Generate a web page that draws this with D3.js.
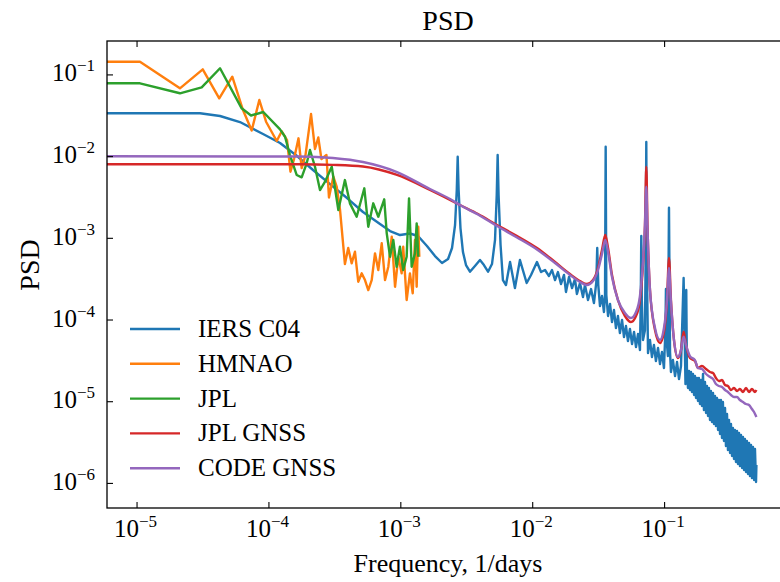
<!DOCTYPE html>
<html>
<head>
<meta charset="utf-8">
<script src="https://cdn.jsdelivr.net/npm/d3@7"></script>
<style>
  body { margin: 0; background: #fff; }
  svg { display: block; }
  svg text { font-family: "Liberation Serif", "DejaVu Serif", serif; fill: #000; }
</style>
</head>
<body>
<svg id="chart" width="780" height="582"></svg>
<script>
// values as [log10 frequency (1/days), log10 PSD]
// the first point of each series stands for f -> 0 (drawn flat to the left edge)
const seriesNames = ["IERS C04", "HMNAO", "JPL", "JPL GNSS", "CODE GNSS"];
const seriesColors = ["#1f77b4", "#ff7f0e", "#2ca02c", "#d62728", "#9467bd"];

const iersC04 = [
  [-6.5,-1.476],[-4.519,-1.476],[-4.367,-1.509],[-4.216,-1.583],[-4.041,-1.729],[-3.912,-1.840],[-3.783,-1.999],
  [-3.662,-2.170],[-3.533,-2.342],[-3.404,-2.513],[-3.283,-2.684],[-3.154,-2.831],[-3.078,-2.917],[-3.002,-2.966],
  [-2.927,-2.947],[-2.866,-2.978],[-2.798,-3.100],[-2.737,-3.223],[-2.684,-3.308],[-2.638,-3.259],[-2.608,-3.125],
  [-2.585,-2.843],[-2.572,-2.415],[-2.565,-2.007],[-2.558,-2.415],[-2.544,-2.880],[-2.525,-3.174],[-2.502,-3.333],
  [-2.472,-3.415],[-2.434,-3.345],[-2.396,-3.272],[-2.366,-3.333],[-2.335,-3.415],[-2.305,-3.321],[-2.282,-3.027],
  [-2.269,-2.476],[-2.262,-1.987],[-2.255,-2.476],[-2.240,-3.088],[-2.222,-3.517],[-2.199,-3.578],[-2.168,-3.296],
  [-2.131,-3.614],[-2.093,-3.272],[-2.042,-3.553],[-2.009,-3.455],[-1.964,-3.296],[-1.933,-3.419],[-1.903,-3.394],
  [-1.873,-3.468],[-1.850,-3.394],[-1.827,-3.517],[-1.805,-3.419],[-1.782,-3.566],[-1.759,-3.455],[-1.744,-3.663],
  [-1.721,-3.480],[-1.698,-3.615],[-1.676,-3.504],[-1.661,-3.688],[-1.638,-3.553],[-1.615,-3.725],[-1.600,-3.578],
  [-1.577,-3.761],[-1.554,-3.627],[-1.532,-3.798],[-1.514,-3.541],[-1.507,-3.125],[-1.499,-3.578],[-1.486,-3.835],
  [-1.471,-3.712],[-1.456,-3.908],[-1.448,-3.700],[-1.443,-1.885],[-1.438,-3.700],[-1.425,-3.957],[-1.410,-3.810],
  [-1.395,-4.031],[-1.380,-3.884],[-1.365,-4.104],[-1.350,-3.957],[-1.335,-4.165],[-1.319,-4.006],[-1.304,-4.214],
  [-1.289,-4.080],[-1.274,-4.263],[-1.259,-4.116],[-1.243,-4.300],[-1.228,-4.153],[-1.213,-4.337],[-1.198,-4.178],
  [-1.183,-4.373],[-1.177,-3.761],[-1.173,-2.978],[-1.169,-3.761],[-1.160,-4.251],[-1.145,-4.129],[-1.140,-3.272],
  [-1.135,-1.827],[-1.131,-3.272],[-1.122,-4.410],[-1.107,-4.251],[-1.092,-4.459],[-1.077,-4.312],[-1.062,-4.508],
  [-1.046,-4.349],[-1.031,-4.545],[-1.016,-4.398],[-1.001,-4.594],[-0.990,-4.129],[-0.986,-3.627],[-0.981,-4.251],
  [-0.971,-4.447],[-0.963,-2.632],[-0.955,-4.398],[-0.948,-4.643],[-0.933,-4.496],[-0.917,-4.692],[-0.902,-4.520],
  [-0.887,-4.728],[-0.872,-4.569],[-0.857,-3.761],[-0.852,-3.492],[-0.845,-4.129],[-0.838,-4.790],[-0.832,-3.639],
  [-0.827,-4.594],[-0.823,-4.700],[-0.819,-4.838],[-0.815,-4.720],[-0.811,-4.630],[-0.807,-4.760],[-0.804,-4.863],
  [-0.800,-4.740],[-0.796,-4.643],[-0.792,-4.780],[-0.789,-4.887],[-0.785,-4.770],[-0.781,-4.667],[-0.777,-4.820],
  [-0.773,-4.924],[-0.770,-4.800],[-0.766,-4.692],[-0.762,-4.850],[-0.758,-4.961],[-0.755,-4.830],[-0.751,-4.716],
  [-0.747,-4.880],[-0.743,-4.998],[-0.740,-4.850],[-0.736,-4.716],[-0.732,-4.900],[-0.728,-5.034],[-0.724,-4.880],
  [-0.720,-4.741],[-0.717,-4.930],[-0.713,-5.059],[-0.709,-4.850],[-0.705,-4.667],[-0.701,-4.920],[-0.698,-5.108],
  [-0.694,-4.930],[-0.690,-4.765],[-0.686,-4.980],[-0.682,-5.144],[-0.679,-4.970],[-0.675,-4.814],[-0.671,-5.010],
  [-0.667,-5.181],[-0.664,-5.000],[-0.660,-4.838],[-0.656,-5.050],[-0.652,-5.230],[-0.649,-5.040],[-0.645,-4.875],
  [-0.641,-5.080],[-0.637,-5.255],[-0.633,-5.070],[-0.629,-4.900],[-0.626,-5.110],[-0.622,-5.279],[-0.618,-5.100],
  [-0.614,-4.936],[-0.610,-5.140],[-0.607,-5.304],[-0.603,-5.130],[-0.599,-4.961],[-0.595,-5.170],[-0.591,-5.353],
  [-0.588,-5.160],[-0.584,-4.985],[-0.580,-5.200],[-0.576,-5.402],[-0.573,-5.190],[-0.569,-4.985],[-0.565,-5.230],
  [-0.561,-5.451],[-0.557,-5.230],[-0.554,-5.010],[-0.550,-5.260],[-0.546,-5.487],[-0.542,-5.280],[-0.538,-5.083],
  [-0.535,-5.320],[-0.531,-5.548],[-0.527,-5.350],[-0.523,-5.157],[-0.519,-5.380],[-0.516,-5.597],[-0.512,-5.410],
  [-0.508,-5.230],[-0.504,-5.430],[-0.500,-5.634],[-0.497,-5.460],[-0.493,-5.279],[-0.489,-5.480],[-0.485,-5.671],
  [-0.482,-5.500],[-0.478,-5.328],[-0.474,-5.520],[-0.470,-5.708],[-0.466,-5.530],[-0.463,-5.353],[-0.459,-5.550],
  [-0.455,-5.744],[-0.451,-5.560],[-0.447,-5.365],[-0.444,-5.570],[-0.440,-5.769],[-0.436,-5.580],[-0.432,-5.389],
  [-0.428,-5.590],[-0.425,-5.793],[-0.421,-5.610],[-0.417,-5.414],[-0.413,-5.620],[-0.409,-5.818],[-0.406,-5.630],
  [-0.402,-5.438],[-0.398,-5.640],[-0.394,-5.842],[-0.390,-5.650],[-0.387,-5.463],[-0.383,-5.670],[-0.379,-5.867],
  [-0.375,-5.680],[-0.372,-5.487],[-0.368,-5.690],[-0.364,-5.891],[-0.360,-5.700],[-0.356,-5.512],[-0.352,-5.710],
  [-0.349,-5.916],[-0.345,-5.730],[-0.341,-5.536],[-0.337,-5.740],[-0.334,-5.940],[-0.330,-5.750],[-0.326,-5.561],
  [-0.322,-5.760],[-0.318,-5.965],[-0.315,-5.780],[-0.311,-5.585],[-0.307,-5.790],[-0.303,-5.989],[-0.300,-5.781]
];

const hmnao = [
  [-6.5,-0.845],[-4.974,-0.845],[-4.671,-1.170],[-4.498,-0.938],[-4.373,-1.293],[-4.274,-1.028],[-4.193,-1.436],
  [-4.127,-1.687],[-4.069,-1.313],[-4.018,-1.579],[-3.937,-1.815],[-3.899,-1.696],[-3.859,-1.803],[-3.833,-2.191],
  [-3.806,-2.036],[-3.772,-1.782],[-3.748,-2.146],[-3.719,-1.987],[-3.677,-1.485],[-3.647,-1.913],[-3.622,-1.772],
  [-3.598,-2.036],[-3.560,-1.987],[-3.541,-2.507],[-3.508,-2.252],[-3.482,-2.378],[-3.457,-2.660],[-3.420,-3.321],
  [-3.395,-3.125],[-3.369,-3.312],[-3.344,-3.170],[-3.319,-3.537],[-3.293,-3.435],[-3.268,-3.517],[-3.243,-3.639],
  [-3.217,-3.517],[-3.192,-3.190],[-3.167,-3.394],[-3.141,-3.067],[-3.116,-3.517],[-3.091,-3.354],[-3.065,-2.987],
  [-3.040,-3.599],[-3.015,-3.231],[-2.990,-3.435],[-2.978,-3.109],[-2.952,-3.761],[-2.927,-3.435],[-2.906,-3.679],
  [-2.889,-3.027],[-2.876,-3.599],[-2.864,-2.864],[-2.856,-3.231]
];

const jpl = [
  [-6.5,-1.109],[-4.974,-1.109],[-4.671,-1.231],[-4.506,-1.158],[-4.367,-0.925],[-4.203,-1.415],[-4.132,-1.503],
  [-4.039,-1.460],[-3.912,-1.672],[-3.874,-1.763],[-3.837,-1.987],[-3.786,-2.231],[-3.748,-2.260],[-3.710,-2.088],
  [-3.685,-1.925],[-3.647,-2.130],[-3.609,-2.415],[-3.571,-2.313],[-3.520,-2.130],[-3.470,-2.660],[-3.420,-2.293],
  [-3.382,-2.578],[-3.331,-2.742],[-3.273,-2.394],[-3.243,-2.864],[-3.205,-2.578],[-3.167,-2.742],[-3.122,-2.529],
  [-3.103,-2.945],[-3.078,-3.231],[-3.053,-3.027],[-3.028,-3.354],[-3.003,-3.109],[-2.978,-3.394],[-2.952,-3.231],
  [-2.934,-2.517],[-2.914,-3.354],[-2.889,-3.190],[-2.876,-2.823],[-2.864,-3.231]
];

const jplGnss = [
  [-6.5,-2.100],[-3.761,-2.100],[-3.511,-2.107],[-3.283,-2.127],[-3.025,-2.231],[-2.775,-2.415],[-2.623,-2.537],
  [-2.548,-2.599],[-2.411,-2.709],[-2.267,-2.843],[-2.115,-2.978],[-1.964,-3.125],[-1.827,-3.296],[-1.714,-3.443],
  [-1.638,-3.529],[-1.585,-3.566],[-1.539,-3.517],[-1.501,-3.370],[-1.471,-3.149],[-1.446,-2.966],[-1.425,-3.125],
  [-1.395,-3.455],[-1.350,-3.761],[-1.297,-3.957],[-1.251,-4.031],[-1.213,-3.957],[-1.183,-3.761],[-1.160,-3.333],
  [-1.145,-2.843],[-1.135,-2.130],[-1.126,-2.843],[-1.107,-3.639],[-1.069,-4.129],[-1.031,-4.288],[-1.001,-4.153],
  [-0.978,-3.761],[-0.963,-3.247],[-0.948,-3.761],[-0.925,-4.251],[-0.895,-4.471],[-0.872,-4.373],[-0.852,-4.149],
  [-0.834,-4.312],[-0.804,-4.471],[-0.766,-4.508],[-0.743,-4.594],[-0.713,-4.569],[-0.682,-4.606],[-0.652,-4.643],
  [-0.629,-4.655],[-0.607,-4.716],[-0.584,-4.753],[-0.561,-4.741],[-0.538,-4.802],[-0.516,-4.814],[-0.493,-4.863],
  [-0.470,-4.838],[-0.447,-4.875],[-0.425,-4.851],[-0.402,-4.887],[-0.379,-4.838],[-0.356,-4.887],[-0.334,-4.851],
  [-0.311,-4.887],[-0.300,-4.863]
];

const codeGnss = [
  [-6.5,-2.000],[-3.761,-2.005],[-3.511,-2.023],[-3.283,-2.072],[-3.025,-2.195],[-2.775,-2.403],[-2.623,-2.525],
  [-2.548,-2.599],[-2.411,-2.715],[-2.267,-2.856],[-2.115,-2.996],[-1.964,-3.143],[-1.827,-3.309],[-1.714,-3.455],
  [-1.638,-3.541],[-1.585,-3.578],[-1.539,-3.529],[-1.501,-3.394],[-1.471,-3.198],[-1.446,-3.027],[-1.425,-3.174],
  [-1.395,-3.480],[-1.350,-3.761],[-1.297,-3.920],[-1.251,-3.982],[-1.213,-3.908],[-1.183,-3.712],[-1.160,-3.296],
  [-1.145,-2.843],[-1.135,-2.375],[-1.126,-2.880],[-1.107,-3.639],[-1.069,-4.104],[-1.031,-4.251],[-1.001,-4.104],
  [-0.978,-3.761],[-0.963,-3.370],[-0.948,-3.786],[-0.925,-4.251],[-0.895,-4.459],[-0.872,-4.373],[-0.852,-4.211],
  [-0.834,-4.312],[-0.804,-4.447],[-0.766,-4.496],[-0.743,-4.594],[-0.713,-4.606],[-0.682,-4.667],[-0.652,-4.704],
  [-0.629,-4.728],[-0.607,-4.790],[-0.584,-4.814],[-0.561,-4.826],[-0.538,-4.863],[-0.516,-4.887],[-0.493,-4.924],
  [-0.470,-4.949],[-0.447,-4.949],[-0.425,-4.985],[-0.402,-5.010],[-0.379,-5.034],[-0.356,-5.047],[-0.334,-5.096],
  [-0.318,-5.132],[-0.300,-5.194]
];

const xTickExps = [-5, -4, -3, -2, -1];
const yTickExps = [-6, -5, -4, -3, -2, -1];

const allSeries = [iersC04, hmnao, jpl, jplGnss, codeGnss];
const smoothSeries = [false, false, false, true, true];

// layout
const width = 780;
const height = 582;
const margin = { top: 41, right: -9, bottom: 74, left: 107 };
const serif = "'Liberation Serif', 'DejaVu Serif', serif";

const x = d3.scaleLog()
  .domain([10 ** -5.224, 10 ** -0.053])
  .range([margin.left, width - margin.right]);

const y = d3.scaleLog()
  .domain([10 ** -6.307, 10 ** -0.591])
  .range([height - margin.bottom, margin.top]);

const svg = d3.select("#chart");

svg.append("rect").attr("width", width).attr("height", height).attr("fill", "#fff");

svg.append("clipPath")
  .attr("id", "plot-clip")
  .append("rect")
  .attr("x", margin.left)
  .attr("y", margin.top)
  .attr("width", width - margin.right - margin.left)
  .attr("height", height - margin.bottom - margin.top);

// lines
const lines = svg.append("g").attr("clip-path", "url(#plot-clip)");

allSeries.forEach((data, i) => {
  const line = d3.line()
    .x(d => x(10 ** d[0]))
    .y(d => y(10 ** d[1]))
    .curve(smoothSeries[i] ? d3.curveMonotoneX : d3.curveLinear);

  lines.append("path")
    .datum(data)
    .attr("fill", "none")
    .attr("stroke", seriesColors[i])
    .attr("stroke-width", 2.4)
    .attr("stroke-linejoin", "round")
    .attr("d", line);
});

// axes (ticks point inward)
const tickVals = xTickExps.map(e => 10 ** e);
const yTickVals = yTickExps.map(e => 10 ** e);

const axisStyle = g => {
  g.select(".domain").remove();
  g.selectAll(".tick line").attr("stroke", "#000").attr("stroke-width", 1.1);
};

svg.append("g")
  .attr("transform", `translate(0, ${height - margin.bottom})`)
  .call(d3.axisBottom(x).tickValues(tickVals).tickSizeInner(-6).tickSizeOuter(0).tickFormat(""))
  .call(axisStyle);

svg.append("g")
  .attr("transform", `translate(0, ${margin.top})`)
  .call(d3.axisTop(x).tickValues(tickVals).tickSizeInner(-6).tickSizeOuter(0).tickFormat(""))
  .call(axisStyle);

svg.append("g")
  .attr("transform", `translate(${margin.left}, 0)`)
  .call(d3.axisLeft(y).tickValues(yTickVals).tickSizeInner(-6).tickSizeOuter(0).tickFormat(""))
  .call(axisStyle);

// frame
svg.append("rect")
  .attr("x", margin.left)
  .attr("y", margin.top)
  .attr("width", width - margin.right - margin.left)
  .attr("height", height - margin.bottom - margin.top)
  .attr("fill", "none")
  .attr("stroke", "#000")
  .attr("stroke-width", 1.3);

// tick labels as 10 with a superscript exponent
function powerLabel(text, exp) {
  text.append("tspan").text("10");
  text.append("tspan")
    .attr("dy", -10)
    .attr("font-size", 17)
    .text("\u2212" + Math.abs(exp));
}

svg.append("g")
  .selectAll("text")
  .data(xTickExps)
  .join("text")
  .attr("x", d => x(10 ** d) - 1)
  .attr("y", height - margin.bottom + 29)
  .attr("text-anchor", "middle")
  .attr("font-family", serif)
  .attr("font-size", 25)
  .each(function (d) { powerLabel(d3.select(this), d); });

svg.append("g")
  .selectAll("text")
  .data(yTickExps)
  .join("text")
  .attr("x", margin.left - 12)
  .attr("y", d => y(10 ** d) + 7)
  .attr("text-anchor", "end")
  .attr("font-family", serif)
  .attr("font-size", 25)
  .each(function (d) { powerLabel(d3.select(this), d); });

// title and axis labels
const plotMidX = (margin.left + width - margin.right) / 2;

svg.append("text")
  .attr("x", plotMidX)
  .attr("y", 30)
  .attr("text-anchor", "middle")
  .attr("font-family", serif)
  .attr("font-size", 28)
  .text("PSD");

svg.append("text")
  .attr("x", plotMidX)
  .attr("y", 572)
  .attr("text-anchor", "middle")
  .attr("font-family", serif)
  .attr("font-size", 26)
  .text("Frequency, 1/days");

svg.append("text")
  .attr("transform", `translate(39, 265) rotate(-90)`)
  .attr("text-anchor", "middle")
  .attr("font-family", serif)
  .attr("font-size", 28)
  .text("PSD");

// legend
const legend = svg.append("g").attr("transform", "translate(130, 329)");
const rowStep = 34.8;

seriesNames.forEach((name, i) => {
  const row = legend.append("g").attr("transform", `translate(0, ${i * rowStep})`);
  row.append("line")
    .attr("x1", 0).attr("x2", 50)
    .attr("stroke", seriesColors[i])
    .attr("stroke-width", 2.4);
  row.append("text")
    .attr("x", 68)
    .attr("y", 8)
    .attr("font-family", serif)
    .attr("font-size", 25)
    .text(name);
});
</script>
</body>
</html>
